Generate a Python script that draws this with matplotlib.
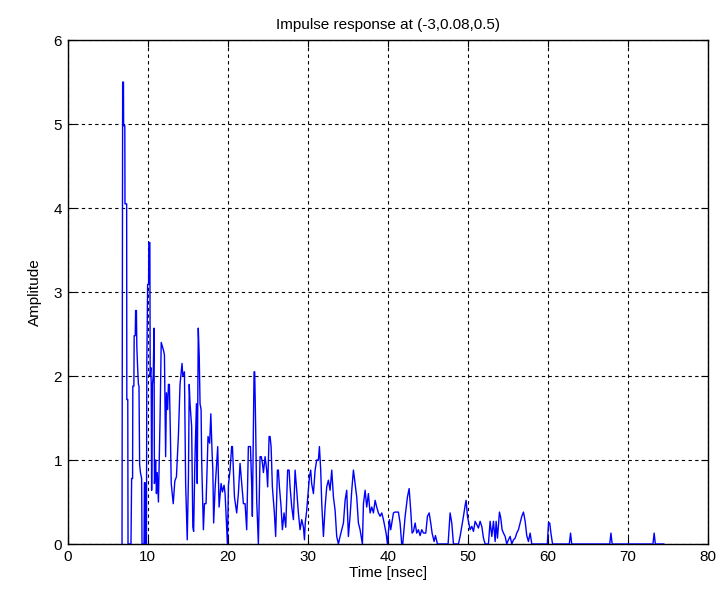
import matplotlib
matplotlib.use("Agg")
import matplotlib.pyplot as plt

plt.rcParams['font.family'] = ['Liberation Sans', 'DejaVu Sans']

title = "Impulse response at (-3,0.08,0.5)"
xlabel = "Time [nsec]"
ylabel = "Amplitude"
xticks = [0, 10, 20, 30, 40, 50, 60, 70, 80]
yticks = [0, 1, 2, 3, 4, 5, 6]

time_ns = [
    6.80, 6.88, 6.98, 7.00, 7.15, 7.17, 7.38, 7.40, 7.52, 7.55, 7.92, 8.00, 8.12, 8.15, 8.28,
    8.32, 8.45, 8.50, 8.60, 8.65, 8.75, 8.85, 8.92, 9.00, 9.10, 9.25, 9.30, 9.55, 9.60, 9.68,
    9.72, 9.85, 9.90, 10.00, 10.12, 10.15, 10.28,
    10.32, 10.40, 10.45, 10.50, 10.60, 10.70, 10.80, 10.85, 10.93, 11.00, 11.10, 11.20, 11.35,
    11.55, 11.70, 11.85, 12.00, 12.10, 12.25, 12.35, 12.50, 12.60, 12.72, 12.85, 12.95, 13.20,
    13.40, 13.60, 13.85, 14.05, 14.30, 14.40, 14.60, 14.75, 14.95, 15.10, 15.20, 15.30, 15.50,
    15.65, 15.75, 15.90, 16.10, 16.20, 16.33, 16.45, 16.55, 16.68, 16.76, 16.97, 17.10, 17.30,
    17.55, 17.75, 17.90, 18.05, 18.15, 18.25, 18.43, 18.76, 18.93, 19.18, 19.35, 19.55, 19.68,
    19.76, 19.97, 20.10, 20.30, 20.50, 20.60, 20.72, 20.85, 21.13, 21.34, 21.55, 21.76, 21.97,
    22.18, 22.38, 22.59, 22.72, 22.85, 22.93, 23.01, 23.09, 23.30, 23.38, 23.50, 23.63, 23.84,
    24.05, 24.20, 24.35, 24.47, 24.68, 24.88, 25.00, 25.18, 25.30, 25.43, 25.59, 25.84, 26.00,
    26.22, 26.34, 26.47, 26.68, 26.84, 27.05, 27.26, 27.50, 27.68, 27.80, 28.01, 28.22, 28.43,
    28.63, 28.84, 29.05, 29.26, 29.47, 29.60, 29.70, 29.88, 30.22, 30.38, 30.50, 30.72, 30.93,
    31.13, 31.34, 31.47, 31.63, 31.76, 31.97, 32.18, 32.38, 32.59, 32.80, 33.01, 33.22, 33.43,
    33.63, 33.84, 34.05, 34.47, 34.68, 34.88, 35.09, 35.30, 35.51, 35.72, 35.93, 36.13, 36.34,
    36.55, 36.84, 36.97, 37.18, 37.38, 37.59, 37.80, 38.01, 38.22, 38.43, 38.63, 38.84, 39.05,
    39.26, 39.47, 39.80, 39.97, 40.22, 40.38, 40.72, 40.90, 41.13, 41.34, 41.55, 41.75, 41.88,
    42.18, 42.47, 42.68, 42.88, 43.05, 43.22, 43.43, 43.63, 43.84, 44.05, 44.26, 44.47, 44.76,
    44.97, 45.18, 45.38, 45.55, 45.80, 45.97, 46.22, 47.55, 47.80, 48.01, 48.22, 48.84, 49.05,
    49.47, 49.68, 49.80, 49.97, 50.09, 50.30, 50.51, 50.72, 50.93, 51.13, 51.34, 51.55, 51.76,
    51.97, 52.18, 52.59, 52.80, 53.01, 53.22, 53.43, 53.55, 53.72, 53.97, 54.13, 54.30, 54.47,
    54.68, 54.88, 55.09, 55.30, 55.51, 55.72, 55.93, 56.13, 56.34, 56.55, 56.76, 56.97, 57.18,
    57.38, 57.59, 57.80, 58.01, 59.95, 60.10, 60.25, 60.40, 60.60, 62.70, 62.85, 63.00, 67.75,
    67.90, 68.05, 73.15, 73.30, 73.45, 74.50,
]

amplitude = [
    0.00, 5.50, 5.50, 4.98, 4.98, 4.05, 4.05, 1.72, 1.72, 0.00, 0.00, 0.78, 0.78, 1.88, 1.88,
    2.48, 2.48, 2.78, 2.78, 2.35, 2.10, 1.90, 1.88, 0.95, 0.85, 0.78, 0.00, 0.00, 0.73, 0.73,
    0.00, 0.00, 2.16, 3.09, 3.09, 3.59, 3.59,
    2.00, 2.10, 1.90, 0.64, 1.90, 2.00, 2.57, 0.72, 0.85, 1.00, 0.60, 0.85, 0.50,
    1.48, 2.40, 2.35, 2.30, 2.25, 1.04, 1.80, 1.60, 1.90, 1.90, 1.28, 0.72, 0.48,
    0.75, 0.80, 1.30, 1.90, 2.15, 2.00, 2.05, 0.72, 0.05, 0.80, 1.90, 1.67, 1.40,
    0.20, 0.15, 0.96, 1.67, 0.72, 2.57, 2.23, 1.67, 1.60, 0.96, 0.17, 0.48, 0.48,
    1.28, 1.20, 1.55, 1.10, 0.88, 0.25, 0.66, 1.16, 0.44, 0.72, 0.62, 0.70, 0.60,
    0.44, 0.00, 0.70, 0.88, 1.16, 1.16, 0.88, 0.56, 0.37, 0.60, 0.96, 0.72, 0.48,
    0.48, 0.17, 1.16, 1.16, 1.16, 0.92, 0.68, 0.33, 2.05, 2.05, 1.40, 0.52, 0.00,
    1.04, 1.04, 0.96, 0.85, 1.04, 0.88, 0.68, 1.28, 1.28, 1.16, 0.68, 0.37, 0.09,
    0.88, 0.88, 0.68, 0.44, 0.17, 0.37, 0.20, 0.88, 0.88, 0.68, 0.44, 0.29, 0.88,
    0.64, 0.37, 0.17, 0.29, 0.20, 0.05, 0.25, 0.40, 0.80, 0.88, 0.72, 0.60, 0.88,
    1.00, 1.00, 1.16, 0.88, 0.48, 0.09, 0.44, 0.68, 0.76, 0.64, 0.88, 0.56, 0.40,
    0.09, 0.00, 0.09, 0.25, 0.52, 0.64, 0.09, 0.33, 0.64, 0.88, 0.72, 0.56, 0.25,
    0.17, 0.00, 0.48, 0.64, 0.44, 0.60, 0.37, 0.44, 0.37, 0.52, 0.44, 0.37, 0.33,
    0.37, 0.29, 0.13, 0.00, 0.29, 0.17, 0.37, 0.38, 0.38, 0.38, 0.25, 0.00, 0.00,
    0.33, 0.56, 0.66, 0.40, 0.13, 0.15, 0.25, 0.13, 0.17, 0.10, 0.17, 0.13, 0.13,
    0.33, 0.37, 0.25, 0.13, 0.03, 0.10, 0.00, 0.00, 0.37, 0.25, 0.00, 0.00, 0.09,
    0.33, 0.46, 0.52, 0.33, 0.27, 0.17, 0.21, 0.15, 0.27, 0.23, 0.19, 0.27, 0.21,
    0.07, 0.00, 0.00, 0.27, 0.09, 0.27, 0.03, 0.27, 0.07, 0.38, 0.31, 0.17, 0.13,
    0.09, 0.00, 0.05, 0.09, 0.00, 0.05, 0.07, 0.13, 0.17, 0.25, 0.33, 0.38, 0.27,
    0.10, 0.03, 0.13, 0.00, 0.00, 0.25, 0.25, 0.13, 0.00, 0.00, 0.13, 0.00, 0.00,
    0.13, 0.00, 0.00, 0.13, 0.00, 0.00,
]

fig = plt.figure(figsize=(7.2, 5.98), dpi=100)
ax = fig.add_axes([0.0939, 0.0903, 0.8891, 0.8427])

ax.plot(time_ns, amplitude, color=(0, 0, 1), linewidth=1.0, zorder=3)

ax.set_xlim(0, 80)
ax.set_ylim(0, 6)
ax.set_xticks(xticks)
ax.set_yticks(yticks)
ax.grid(True, color='black', linestyle=(0, (3, 3)), linewidth=0.8)
ax.tick_params(direction='in', top=True, right=True, labelsize=11, length=5, width=0.8, pad=4)
for s in ax.spines.values():
    s.set_linewidth(1.0)
    s.set_color('black')

ax.set_title(title, fontsize=11, pad=8)
ax.set_xlabel(xlabel, fontsize=11, labelpad=2)
ax.set_ylabel(ylabel, fontsize=11, labelpad=8)

fig.savefig("out.png", dpi=100)
